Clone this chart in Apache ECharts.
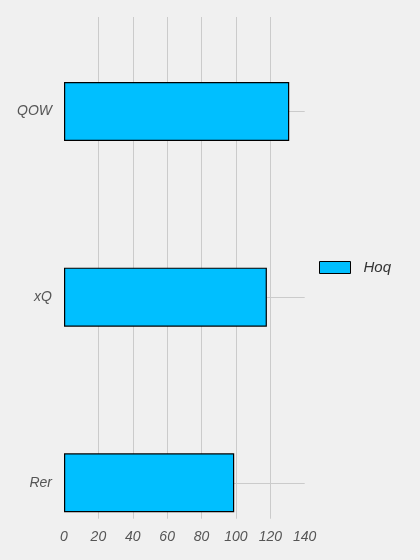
<!DOCTYPE html>
<html>
<head>
<meta charset="utf-8">
<script src="https://cdn.jsdelivr.net/npm/echarts@6/dist/echarts.min.js"></script>
<style>
  html, body { margin: 0; padding: 0; background: #f0f0f0; }
  #main { width: 420px; height: 560px; }
</style>
</head>
<body>
<div id="main"></div>
<script>
// 数据（从图上读出来的）
let categories = ['QOW', 'xQ', 'Rer']
let hoqValues = [131, 118, 99]
let xTicks = [0, 20, 40, 60, 80, 100, 120, 140]

let font = 'Liberation Sans, Arial, sans-serif'

let myChart = echarts.init(document.getElementById('main'))

let options = {
  backgroundColor: '#f0f0f0',
  animation: false,
  legend: {
    data: ['Hoq'],
    left: 319,
    top: 260,
    padding: 0,
    icon: 'rect',
    itemWidth: 31,
    itemHeight: 12,
    itemStyle: { borderColor: '#000', borderWidth: 1 },
    textStyle: {
      color: '#333',
      fontSize: 15,
      fontStyle: 'italic',
      fontFamily: font,
      padding: [0, 0, 0, 8]
    }
  },
  // grid 0：背景网格和x轴刻度，grid 1：柱子（类目带宽要和原图一致，所以往下超出画布）
  grid: [
    { left: 64, right: 115.3, top: 17, bottom: 41.3, outerBoundsMode: 'none' },
    { left: 64, right: 115.3, top: 18.7, height: 556.9, outerBoundsMode: 'none' }
  ],
  xAxis: [
    {
      gridIndex: 0,
      type: 'value',
      min: xTicks[0],
      max: xTicks[xTicks.length - 1],
      interval: 20,
      axisLine: { show: false },
      axisTick: { show: false },
      axisLabel: {
        color: '#555',
        fontSize: 14,
        fontStyle: 'italic',
        fontFamily: font,
        margin: 11
      },
      splitLine: {
        show: true,
        showMinLine: false,
        showMaxLine: false,
        lineStyle: { color: '#cbcbcb', width: 1 }
      }
    },
    {
      gridIndex: 1,
      type: 'value',
      min: xTicks[0],
      max: xTicks[xTicks.length - 1],
      show: false
    }
  ],
  yAxis: [
    {
      gridIndex: 1,
      type: 'category',
      data: categories,
      inverse: true,
      axisLine: { show: false },
      axisTick: { show: false },
      splitLine: { show: false },
      axisLabel: {
        color: '#555',
        fontSize: 14,
        fontStyle: 'italic',
        fontFamily: font,
        margin: 12
      }
    },
    {
      // 只用来画类目中心的横线
      gridIndex: 1,
      type: 'value',
      min: 0,
      max: categories.length * 2,
      interval: 1,
      axisLine: { show: false },
      axisTick: { show: false },
      axisLabel: { show: false },
      splitLine: {
        show: true,
        lineStyle: { color: ['transparent', '#cbcbcb'], width: 1 }
      }
    },
    {
      gridIndex: 0,
      type: 'value',
      show: false
    }
  ],
  series: [
    {
      name: 'Hoq',
      type: 'bar',
      xAxisIndex: 1,
      yAxisIndex: 0,
      barWidth: 59,
      data: hoqValues,
      itemStyle: {
        color: '#00bfff',
        borderColor: '#000',
        borderWidth: 1.2
      }
    }
  ]
}

myChart.setOption(options)
</script>
</body>
</html>
